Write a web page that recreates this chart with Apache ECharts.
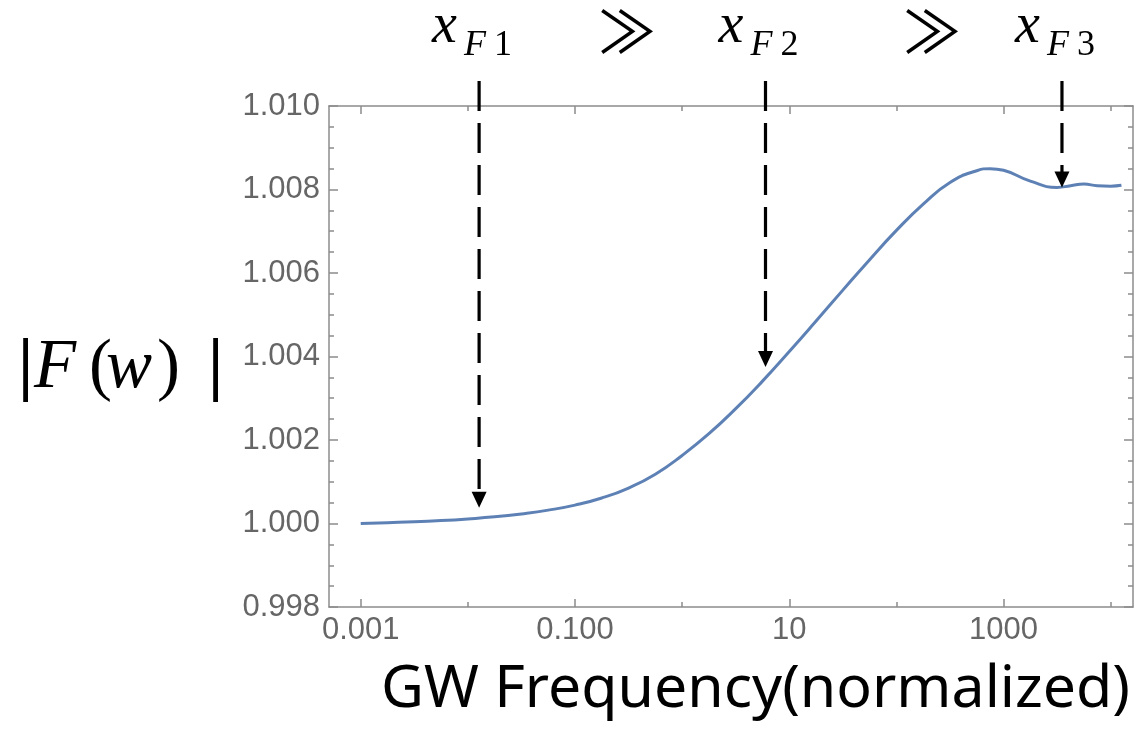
<!DOCTYPE html>
<html>
<head>
<meta charset="utf-8">
<script src="https://cdn.jsdelivr.net/npm/echarts@6/dist/echarts.min.js"></script>
<style>
  html, body { margin: 0; padding: 0; background: #ffffff; }
  #chart { width: 1138px; height: 737px; }
</style>
</head>
<body>
<div id="chart"></div>
<script>
// |F(w)| against normalized GW frequency; the x axis is laid out in log10 units.
const log10Frequency = [-3.00, -2.75, -2.50, -2.25, -2.00, -1.75, -1.50, -1.25, -1.00, -0.75,
                        -0.50, -0.25, 0.00, 0.25, 0.50, 0.75, 1.00, 1.25, 1.50, 1.75,
                        2.00, 2.25, 2.50, 2.75, 2.875, 3.00, 3.25, 3.50, 3.625, 3.75,
                        3.875, 4.00, 4.10];
const magnitude = [1.00000, 1.00002, 1.00004, 1.00007, 1.00011, 1.00016, 1.00023, 1.00032, 1.00044, 1.00061,
                   1.00085, 1.00118, 1.00163, 1.00215, 1.00275, 1.00341, 1.00412, 1.00485, 1.00559, 1.00632,
                   1.00702, 1.00765, 1.00817, 1.00845, 1.00850, 1.00846, 1.00820, 1.00805, 1.00809, 1.00813,
                   1.00809, 1.00808, 1.00810];

const xRange = [-3.296, 4.208];
const xMajorTicks = [-3, -1, 1, 3];
const xMajorLabels = ['0.001', '0.100', '10', '1000'];
const xMinorTicks = [-2, 0, 2, 4];
const yRange = [0.998, 1.010];
const yStep = 0.002;

// dashed arrows marking the three characteristic frequencies (log10 units)
const markerNames = ['1', '2', '3'];
const markerLog10Frequency = [-1.895, 0.778, 3.545];
const markerValue = [1.00038, 1.00375, 1.00805];
const markerTopValue = 1.0106;

const frameColor = '#8c8c8c';
const tickLabelColor = '#666666';
const curveColor = '#5e81b5';

function xAxisDef(position, ticks, tickLen, showLine, labels) {
  return {
    type: 'value', position: position,
    min: xRange[0], max: xRange[1],
    axisLine: { show: showLine, onZero: false, lineStyle: { color: frameColor, width: 1.5 } },
    axisTick: { show: true, inside: true, length: tickLen, customValues: ticks,
                lineStyle: { color: frameColor, width: 1.5 } },
    axisLabel: labels ? {
      show: true, customValues: xMajorTicks, margin: 8,
      color: tickLabelColor, fontFamily: 'Liberation Sans', fontSize: 31,
      formatter: v => {
        const i = xMajorTicks.findIndex(t => Math.abs(t - v) < 1e-6);
        return i >= 0 ? xMajorLabels[i] : '';
      }
    } : { show: false },
    splitLine: { show: false }
  };
}

function yAxisDef(position, labels) {
  return {
    type: 'value', position: position,
    min: yRange[0], max: yRange[1], interval: yStep,
    axisLine: { show: true, onZero: false, lineStyle: { color: frameColor, width: 1.5 } },
    axisTick: { show: true, inside: true, length: 9, lineStyle: { color: frameColor, width: 1.5 } },
    minorTick: { show: true, splitNumber: 4, length: 5, lineStyle: { color: frameColor, width: 1.5 } },
    axisLabel: labels ? {
      show: true, margin: 9, color: tickLabelColor, fontFamily: 'Liberation Sans', fontSize: 31,
      formatter: v => v.toFixed(3)
    } : { show: false },
    splitLine: { show: false },
    minorSplitLine: { show: false }
  };
}

const chart = echarts.init(document.getElementById('chart'), null, { renderer: 'canvas' });

chart.setOption({
  animation: false,
  backgroundColor: '#ffffff',
  grid: { left: 329, top: 106, right: 5, bottom: 130, containLabel: false, outerBoundsMode: 'none' },
  xAxis: [
    xAxisDef('bottom', xMajorTicks, 8, true, true),
    xAxisDef('bottom', xMinorTicks, 5, false, false),
    xAxisDef('top', xMajorTicks, 8, true, false),
    xAxisDef('top', xMinorTicks, 5, false, false)
  ],
  yAxis: [yAxisDef('left', true), yAxisDef('right', false)],
  series: [{
    type: 'line',
    xAxisIndex: 0, yAxisIndex: 0,
    data: log10Frequency.map((e, i) => [e, magnitude[i]]),
    smooth: 0.5,
    showSymbol: false,
    lineStyle: { color: curveColor, width: 3 },
    clip: false
  }]
});

const toPx = (e, v) => chart.convertToPixel({ xAxisIndex: 0, yAxisIndex: 0 }, [e, v]);

const serif = 'Liberation Serif';
const graphics = [];

markerLog10Frequency.forEach((e, i) => {
  const [x, yTip] = toPx(e, markerValue[i]);
  const [, yTop] = toPx(e, markerTopValue);
  graphics.push({
    type: 'line', z: 50,
    shape: { x1: x, y1: yTop, x2: x, y2: yTip - 8 },
    style: { stroke: '#000', lineWidth: 3.2, lineDash: [30, 12] }
  });
  graphics.push({
    type: 'polygon', z: 50,
    shape: { points: [[x - 7.5, yTip - 16], [x + 7.5, yTip - 16], [x, yTip]] },
    style: { fill: '#000' }
  });
  // label x_{F n} above each arrow
  graphics.push({
    type: 'text', z: 50, x: x - 47, y: 27,
    style: { text: 'x', font: 'italic 56px "' + serif + '"', fill: '#000',
             textAlign: 'left', textVerticalAlign: 'middle' }
  });
  graphics.push({
    type: 'text', z: 50, x: x - 15, y: 46,
    style: { text: 'F', font: 'italic 36px "' + serif + '"', fill: '#000',
             textAlign: 'left', textVerticalAlign: 'middle' }
  });
  graphics.push({
    type: 'text', z: 50, x: x + 15, y: 46,
    style: { text: markerNames[i], font: '36px "' + serif + '"', fill: '#000',
             textAlign: 'left', textVerticalAlign: 'middle' }
  });
});

// "much greater than" signs between the labels
[627, 932].forEach(cx => {
  graphics.push({
    type: 'text', z: 50, x: cx, y: 31,
    style: { text: '\u226B', font: '58px "Noto Sans CJK JP"', fill: '#000',
             textAlign: 'center', textVerticalAlign: 'middle' }
  });
});

// y axis title |F(w)|
[
  { t: '|', x: 18, italic: false, bold: true },
  { t: 'F', x: 34, italic: true },
  { t: '(', x: 89, italic: false },
  { t: 'w', x: 106, italic: true },
  { t: ')', x: 157, italic: false },
  { t: '|', x: 208, italic: false, bold: true }
].forEach(p => {
  graphics.push({
    type: 'text', z: 50, x: p.x, y: 369,
    style: { text: p.t, font: (p.italic ? 'italic ' : '') + (p.bold ? 'bold ' : '') + '69px "' + serif + '"',
             fill: '#000', textAlign: 'left', textVerticalAlign: 'middle' }
  });
});

// x axis title
graphics.push({
  type: 'text', z: 50, x: 381, y: 690,
  style: { text: 'GW Frequency(normalized)', font: '59px "Noto Sans"', fill: '#000',
           textAlign: 'left', textVerticalAlign: 'middle' }
});

chart.setOption({ graphic: graphics });
</script>
</body>
</html>
